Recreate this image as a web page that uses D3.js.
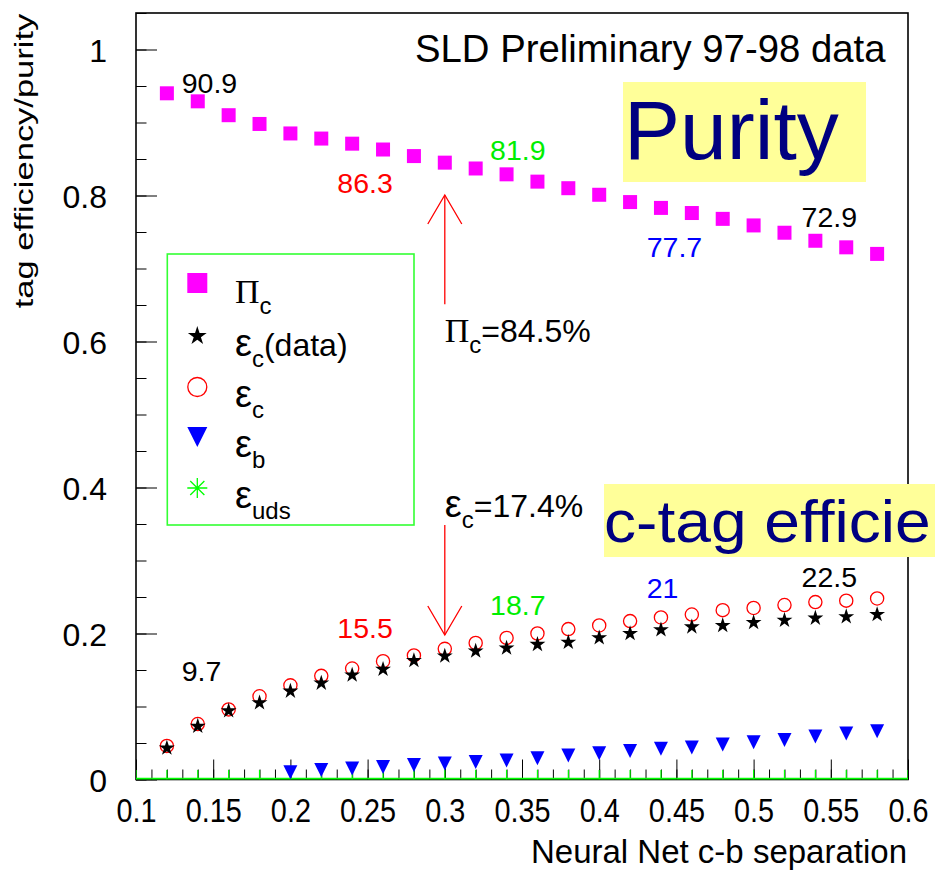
<!DOCTYPE html>
<html><head><meta charset="utf-8">
<script src="https://cdn.jsdelivr.net/npm/d3@7"></script>
<style>
body{margin:0;background:#fff}
text{font-family:"Liberation Sans",Arial,Helvetica,sans-serif}
</style>
</head><body>
<svg id="chart" width="935" height="871"></svg>
<script>
// ---------- data ----------
const xValues = [0.12,0.14,0.16,0.18,0.20,0.22,0.24,0.26,0.28,0.30,0.32,0.34,0.36,0.38,0.40,0.42,0.44,0.46,0.48,0.50,0.52,0.54,0.56,0.58];
const purityC = [0.940,0.929,0.910,0.898,0.885,0.878,0.871,0.863,0.854,0.845,0.837,0.829,0.819,0.810,0.801,0.791,0.783,0.776,0.768,0.759,0.749,0.738,0.729,0.720];
const effCData = [0.043,0.073,0.094,0.105,0.121,0.132,0.143,0.151,0.163,0.169,0.176,0.180,0.185,0.188,0.194,0.200,0.205,0.209,0.211,0.215,0.218,0.221,0.223,0.226];
const effC = [0.046,0.076,0.096,0.114,0.129,0.142,0.152,0.162,0.170,0.179,0.187,0.194,0.200,0.206,0.211,0.217,0.222,0.226,0.232,0.235,0.239,0.243,0.245,0.248];
const xB = [0.20,0.22,0.24,0.26,0.28,0.30,0.32,0.34,0.36,0.38,0.40,0.42,0.44,0.46,0.48,0.50,0.52,0.54,0.56,0.58];
const effB = [0.010,0.013,0.015,0.017,0.020,0.022,0.024,0.026,0.029,0.033,0.036,0.039,0.042,0.044,0.048,0.051,0.054,0.059,0.063,0.066];
const xUds = [0.10,0.12,0.14,0.16,0.18,0.20,0.22,0.24,0.26,0.28,0.30,0.32,0.34,0.36,0.38,0.40,0.42,0.44,0.46,0.48,0.50,0.52,0.54,0.56,0.58,0.60];
const effUds = [0,0,0,0,0,0,0,0,0,0,0,0,0,0,0,0,0,0,0,0,0,0,0,0,0,0];
const effUdsErr = [0.013,0.013,0.013,0.013,0.013,0.013,0.013,0.013,0.013,0.013,0.013,0.013,0.013,0.013,0.013,0.013,0.013,0.013,0.013,0.013,0.013,0.013,0.013,0.013,0.013,0.013];
const xTicks = [0.1,0.15,0.2,0.25,0.3,0.35,0.4,0.45,0.5,0.55,0.6];
const xTickLabels = ["0.1","0.15","0.2","0.25","0.3","0.35","0.4","0.45","0.5","0.55","0.6"];
const yTicks = [0,0.2,0.4,0.6,0.8,1];
const yTickLabels = ["0","0.2","0.4","0.6","0.8","1"];
const purityNotes = ["90.9","86.3","81.9","77.7","72.9"];
const effNotes = ["9.7","15.5","18.7","21","22.5"];
const cutX = 0.30;
const cutPurity = "84.5%";
const cutEff = "17.4%";

// ---------- drawing ----------
const svg = d3.select("#chart");
svg.append("rect").attr("width",935).attr("height",871).attr("fill","#fff");

const x = d3.scaleLinear().domain([0.1,0.6]).range([136,908]);
const y = d3.scaleLinear().domain([0,1.05]).range([779.5,13]);

const noteColors = ["#000000","#ff0000","#00ee00","#0000ff","#000000"];
const noteX = [0.1296,0.2304,0.3293,0.4308,0.5311];
const purityNoteY = [0.940,0.8038,0.8486,0.7162,0.7573];
const effNoteY = [0.1353,0.1934,0.2253,0.2482,0.2633];

svg.append("clipPath").attr("id","frameclip")
  .append("rect").attr("x",136).attr("y",13).attr("width",772).attr("height",766.5);

// Axes ticks
const gx = svg.append("g").attr("transform",`translate(0,${y(0)})`);
gx.call(d3.axisBottom(x).tickValues(d3.range(0.1,0.6001,0.01)).tickSize(-10).tickSizeOuter(0).tickFormat(""));
gx.select(".domain").remove();
gx.selectAll("line").attr("stroke","#000").attr("stroke-width",1);
const gx2 = svg.append("g").attr("transform",`translate(0,${y(0)})`);
gx2.call(d3.axisBottom(x).tickValues(xTicks).tickSize(-20).tickSizeOuter(0)
  .tickFormat((d,i)=>xTickLabels[i]));
gx2.select(".domain").remove();
gx2.selectAll("line").attr("stroke","#000").attr("stroke-width",1);
gx2.selectAll("text").attr("y",null).attr("dy",null)
  .attr("transform","translate(0,42.5) scale(0.93,1.06)")
  .attr("font-size",31).attr("fill","#000")
  .style("font-family",'"Liberation Sans",Arial,sans-serif');

const gy = svg.append("g").attr("transform",`translate(${x(0.1)},0)`);
gy.call(d3.axisLeft(y).tickValues(d3.range(0,1.0501,0.05)).tickSize(-10.5).tickSizeOuter(0).tickFormat(""));
gy.select(".domain").remove();
gy.selectAll("line").attr("stroke","#000").attr("stroke-width",1);
const gy2 = svg.append("g").attr("transform",`translate(${x(0.1)},0)`);
gy2.call(d3.axisLeft(y).tickValues(yTicks).tickSize(-21).tickSizeOuter(0).tickPadding(29)
  .tickFormat((d,i)=>yTickLabels[i]));
gy2.select(".domain").remove();
gy2.selectAll("line").attr("stroke","#000").attr("stroke-width",1);
gy2.selectAll("text").attr("font-size",32).attr("fill","#000").attr("dy","0.36em")
  .style("font-family",'"Liberation Sans",Arial,sans-serif');

// Frame
svg.append("rect").attr("x",136).attr("y",13).attr("width",772).attr("height",766.5)
  .attr("fill","none").attr("stroke","#000").attr("stroke-width",1.6);

// Purity highlight box
svg.append("rect").attr("x",623).attr("y",82).attr("width",243).attr("height",100).attr("fill","#ffff99");
svg.append("text").attr("x",624).attr("y",159).attr("font-size",84).attr("fill","#000080").text("Purity");

// c-tag efficiency box (runs to the canvas edge)
svg.append("rect").attr("x",604).attr("y",484).attr("width",331).attr("height",73).attr("fill","#ffff99");
svg.append("text").attr("font-size",59).attr("fill","#000080")
  .attr("transform","translate(604,541.5) scale(1.087,1)").text("c-tag efficie");

// Title
svg.append("text").attr("x",415).attr("y",61.5).attr("font-size",38.3).attr("fill","#000").text("SLD Preliminary 97-98 data");

// Axis titles
svg.append("text").attr("x",907).attr("y",863).attr("text-anchor","end").attr("font-size",33)
  .attr("fill","#000").text("Neural Net c-b separation");
svg.append("text").attr("text-anchor","middle").attr("font-size",34.5)
  .attr("transform","translate(33,161) rotate(-90) scale(1,0.76)")
  .attr("fill","#000").text("tag efficiency/purity");

const plot = svg.append("g").attr("clip-path","url(#frameclip)");

// uds: green error bars along zero
plot.selectAll("line.udsh").data(xUds).join("line").attr("class","udsh")
  .attr("x1",(d)=>x(d-0.01)).attr("x2",(d)=>x(d+0.01))
  .attr("y1",(d,i)=>y(effUds[i])).attr("y2",(d,i)=>y(effUds[i]))
  .attr("stroke","#00ff00").attr("stroke-width",3.5);
plot.selectAll("line.udsv").data(xUds).join("line").attr("class","udsv")
  .attr("x1",(d)=>x(d)).attr("x2",(d)=>x(d))
  .attr("y1",(d,i)=>y(effUds[i])).attr("y2",(d,i)=>y(effUds[i]+effUdsErr[i]))
  .attr("stroke","#00ff00").attr("stroke-width",1.2);

const triDown = {draw(ctx,size){const s=Math.sqrt(size);ctx.moveTo(-s/2,-s/2);ctx.lineTo(s/2,-s/2);ctx.lineTo(0,s/2);ctx.closePath();}};
const asterisk = {draw(ctx,size){const r=Math.sqrt(size)/2;for(let k=0;k<4;k++){const a=k*Math.PI/4;ctx.moveTo(-r*Math.cos(a),-r*Math.sin(a));ctx.lineTo(r*Math.cos(a),r*Math.sin(a));}}};

// b efficiency triangles
plot.selectAll("path.tri").data(xB).join("path").attr("class","tri")
  .attr("transform",(d,i)=>`translate(${x(d)},${y(effB[i])})`)
  .attr("d",d3.symbol().type(triDown).size(14*14)).attr("fill","#0000ff");

// purity squares
plot.selectAll("rect.sq").data(xValues).join("rect").attr("class","sq")
  .attr("x",(d)=>x(d)-7).attr("y",(d,i)=>y(purityC[i])-7).attr("width",14).attr("height",14)
  .attr("fill","#ff00ff");

// efficiency MC circles
plot.selectAll("circle.ec").data(xValues).join("circle").attr("class","ec")
  .attr("cx",(d)=>x(d)).attr("cy",(d,i)=>y(effC[i])).attr("r",6.6)
  .attr("fill","none").attr("stroke","#ff0000").attr("stroke-width",1.3);

// efficiency data stars
plot.selectAll("path.st").data(xValues).join("path").attr("class","st")
  .attr("transform",(d,i)=>`translate(${x(d)},${y(effCData[i])})`)
  .attr("d",d3.symbol().type(d3.symbolStar).size(78)).attr("fill","#000");

// notes
svg.selectAll("text.pn").data(purityNotes).join("text").attr("class","pn")
  .attr("x",(d,i)=>x(noteX[i])).attr("y",(d,i)=>y(purityNoteY[i]))
  .attr("font-size",28.5).attr("fill",(d,i)=>noteColors[i]).text(d=>d);
svg.selectAll("text.en").data(effNotes).join("text").attr("class","en")
  .attr("x",(d,i)=>x(noteX[i])).attr("y",(d,i)=>y(effNoteY[i]))
  .attr("font-size",28.5).attr("fill",(d,i)=>noteColors[i]).text(d=>d);

// arrows
function arrow(x0,vFrom,vTo){
  const px=x(x0), p0=y(vFrom), p1=y(vTo);
  const dir = Math.sign(p0-p1);
  const g = svg.append("g").attr("stroke","#ff0000").attr("stroke-width",1.3).attr("fill","none");
  g.append("line").attr("x1",px).attr("x2",px).attr("y1",p0).attr("y2",p1);
  g.append("path").attr("d",`M${px-17},${p1+dir*29} L${px},${p1} L${px+17},${p1+dir*29}`);
}
arrow(cutX,0.651,0.8007);
arrow(cutX,0.3486,0.198);

// cut value labels
const t1 = svg.append("text").attr("x",x(cutX)).attr("y",341.5).attr("fill","#000");
t1.append("tspan").attr("font-size",34).style("font-family",'"Liberation Serif","Times New Roman",serif').text("Π");
t1.append("tspan").attr("font-size",24).attr("dy",11).text("c");
t1.append("tspan").attr("font-size",32).attr("dy",-11).text("="+cutPurity);
const t2 = svg.append("text").attr("x",x(cutX)).attr("y",517.3).attr("fill","#000");
t2.append("tspan").attr("font-size",38).text("ε");
t2.append("tspan").attr("font-size",24).attr("dy",11).text("c");
t2.append("tspan").attr("font-size",32).attr("dy",-11).text("="+cutEff);

// legend
svg.append("rect").attr("x",167.3).attr("y",254).attr("width",246.7).attr("height",271)
  .attr("fill","#fff").attr("stroke","#33ff33").attr("stroke-width",1.6);
const legendY = [283,336,387,437,488];
const lx = 197.3;
svg.append("rect").attr("x",lx-10).attr("y",legendY[0]-10).attr("width",20).attr("height",20).attr("fill","#ff00ff");
svg.append("path").attr("transform",`translate(${lx},${legendY[1]})`).attr("d",d3.symbol().type(d3.symbolStar).size(110)).attr("fill","#000");
svg.append("circle").attr("cx",lx).attr("cy",legendY[2]).attr("r",9.5).attr("fill","none").attr("stroke","#ff0000").attr("stroke-width",1.3);
svg.append("path").attr("transform",`translate(${lx},${legendY[3]})`).attr("d",d3.symbol().type(triDown).size(400)).attr("fill","#0000ff");
svg.append("path").attr("transform",`translate(${lx},${legendY[4]})`).attr("d",d3.symbol().type(asterisk).size(400)).attr("stroke","#00ff00").attr("stroke-width",1.3).attr("fill","none");

const legendLabels = [["Π","c",""],["ε","c","(data)"],["ε","c",""],["ε","b",""],["ε","uds",""]];
legendLabels.forEach((L,i)=>{
  const t = svg.append("text").attr("x",235).attr("y",legendY[i]+20).attr("fill","#000");
  if(i===0) t.append("tspan").attr("font-size",34).style("font-family",'"Liberation Serif","Times New Roman",serif').text(L[0]);
  else t.append("tspan").attr("font-size",38).text(L[0]);
  t.append("tspan").attr("font-size",24).attr("dy",11).text(L[1]);
  if(L[2]) t.append("tspan").attr("font-size",32).attr("dy",-11).text(L[2]);
});
</script>
</body></html>
